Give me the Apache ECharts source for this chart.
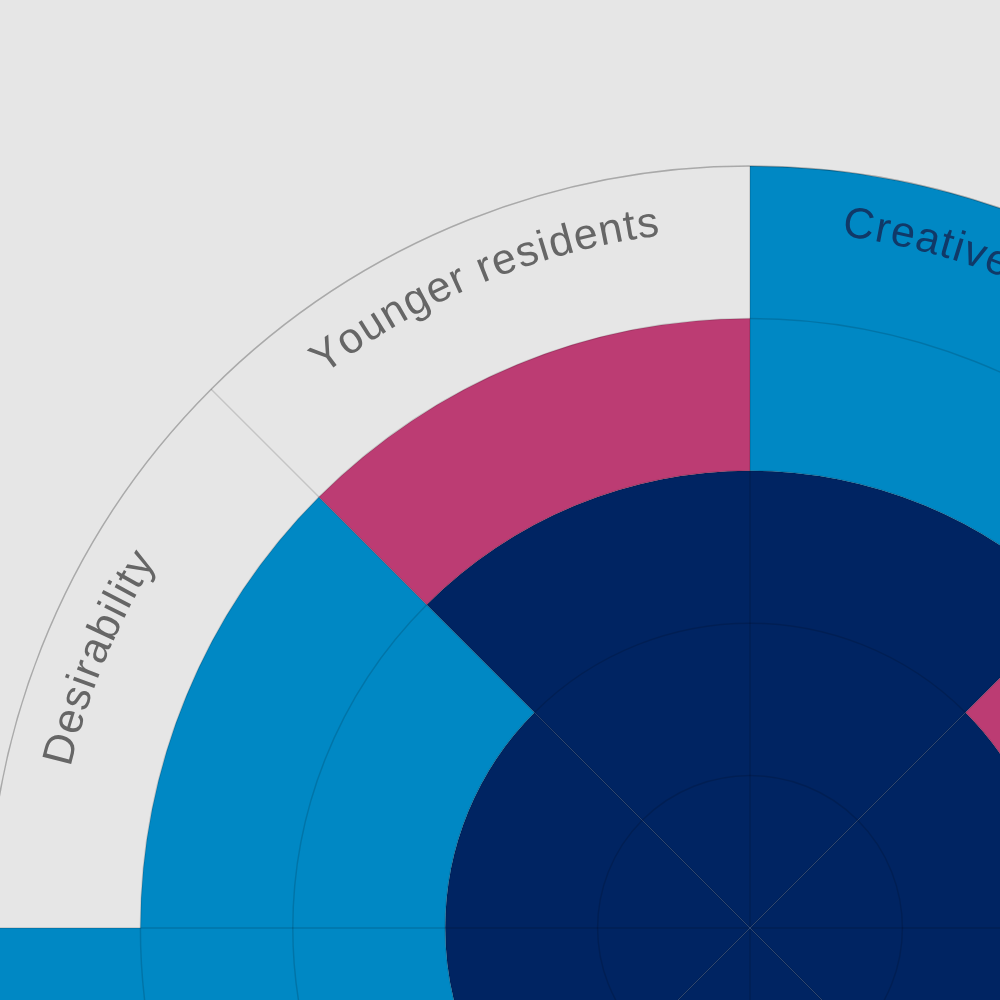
<!DOCTYPE html>
<html>
<head>
<meta charset="utf-8">
<script src="https://cdn.jsdelivr.net/npm/echarts@6/dist/echarts.min.js"></script>
<style>
html,body{margin:0;padding:0;background:#e6e6e6;}
#chart{width:1000px;height:1000px;}
</style>
</head>
<body>
<div id="chart"></div>
<script>
// Categories, clockwise from 12 o'clock
const categories = ["Creative economy", "Cultural offer", "Green space", "Affordability",
                    "Transport", "Employment", "Desirability", "Younger residents"];
const navyValues = [3, 2, 3, 2, 3, 2, 2, 3];
const blueValues = [2, 0, 1, 2, 1, 3, 2, 0];
const pinkValues = [0, 2, 0, 0, 0, 0, 0, 1];
const radiusTicks = [0, 1, 2, 3, 4, 5];

const AXIS_MAX = 5;
const LABEL_R = 4.66;
const FONT_SIZE = 43;
const FONT = FONT_SIZE + 'px "Liberation Sans", Arial, sans-serif';
const SPACING = 1.6;

const measureCtx = document.createElement('canvas').getContext('2d');
measureCtx.font = FONT;

function renderLabel(params, api) {
  const idx = api.value(1);
  const text = categories[idx];
  const total = navyValues[idx] + blueValues[idx] + pinkValues[idx];
  const fill = total >= AXIS_MAX ? '#103968' : '#666666';
  const c = api.coord([0, idx]);
  const p = api.coord([LABEL_R, idx]);
  const dx = p[0] - c[0], dy = c[1] - p[1];
  const R = Math.hypot(dx, dy);
  const theta = Math.atan2(dy, dx);
  const upper = Math.sin(theta) >= -0.01;
  const dir = upper ? -1 : 1;
  const chars = Array.from(text);
  const widths = chars.map(ch => measureCtx.measureText(ch).width);
  const totalW = widths.reduce((a, b) => a + b, 0) + SPACING * (chars.length - 1);
  let s = -totalW / 2;
  const children = [];
  chars.forEach((ch, i) => {
    const sc = s + widths[i] / 2;
    const a = theta + dir * sc / R;
    const x = c[0] + R * Math.cos(a);
    const y = c[1] - R * Math.sin(a);
    children.push({
      type: 'text',
      x: x, y: y,
      rotation: upper ? a - Math.PI / 2 : a + Math.PI / 2,
      style: { text: ch, font: FONT, fill: fill, align: 'center', verticalAlign: 'middle' },
      silent: true
    });
    s += widths[i] + SPACING;
  });
  return { type: 'group', children: children };
}

const gridLine = { color: 'rgba(0,0,0,0.14)', width: 1.5 };

const chart = echarts.init(document.getElementById('chart'), null, { renderer: 'canvas' });
chart.setOption({
  backgroundColor: '#e6e6e6',
  animation: false,
  polar: { center: [750, 928], radius: [0, 762] },
  angleAxis: {
    type: 'category',
    data: categories,
    startAngle: 90,
    clockwise: true,
    z: 10,
    axisLine: { show: true, lineStyle: gridLine },
    axisTick: { show: false },
    axisLabel: { show: false },
    splitLine: { show: true, lineStyle: gridLine }
  },
  radiusAxis: {
    type: 'value',
    min: radiusTicks[0],
    max: radiusTicks[radiusTicks.length - 1],
    interval: 1,
    z: 10,
    axisLine: { show: false },
    axisTick: { show: false },
    axisLabel: { show: false },
    splitLine: { show: true, lineStyle: gridLine }
  },
  series: [
    { type: 'bar', coordinateSystem: 'polar', name: 'Base', stack: 'total', data: navyValues,
      barCategoryGap: '0%', itemStyle: { color: '#002462' } },
    { type: 'bar', coordinateSystem: 'polar', name: 'Blue', stack: 'total', data: blueValues,
      barCategoryGap: '0%', itemStyle: { color: '#0088c4' } },
    { type: 'bar', coordinateSystem: 'polar', name: 'Pink', stack: 'total', data: pinkValues,
      barCategoryGap: '0%', itemStyle: { color: '#bc3c73' } },
    { type: 'custom', coordinateSystem: 'polar', name: 'Labels', z: 20, silent: true,
      data: categories.map((c, i) => [LABEL_R, i]),
      encode: { radius: 0, angle: 1 },
      renderItem: renderLabel }
  ]
});
</script>
</body>
</html>
